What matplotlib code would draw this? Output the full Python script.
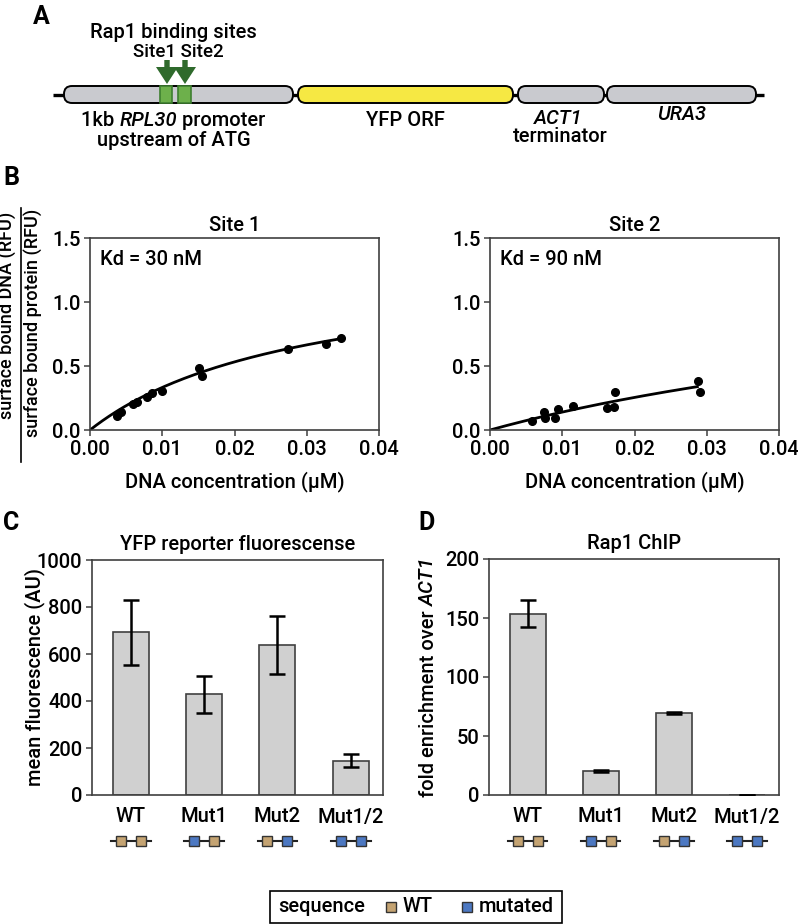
import numpy as np
import matplotlib
matplotlib.use("Agg")
import matplotlib.pyplot as plt
from matplotlib import font_manager
from matplotlib.patches import FancyBboxPatch, Rectangle, Polygon
from matplotlib.transforms import blended_transform_factory

# ---------------- data ----------------
site1_x = [0.00369, 0.00424, 0.0059, 0.00646, 0.00784, 0.00863, 0.0100, 0.0151, 0.01555, 0.0274, 0.0327, 0.0347]
site1_y = [0.109, 0.138, 0.203, 0.221, 0.260, 0.286, 0.307, 0.481, 0.424, 0.629, 0.673, 0.715]
site2_x = [0.00586, 0.00747, 0.00757, 0.0090, 0.00937, 0.01144, 0.01615, 0.01721, 0.0173, 0.02874, 0.02907]
site2_y = [0.070, 0.138, 0.096, 0.096, 0.164, 0.185, 0.169, 0.179, 0.299, 0.380, 0.299]
site1_kd, site1_bmax, site1_xmax = 0.030, 1.33, 0.0350   # fit (uM)
site2_kd, site2_bmax, site2_xmax = 0.090, 1.40, 0.0287

strains = ["WT", "Mut1", "Mut2", "Mut1/2"]
seq_states = [("wt", "wt"), ("mut", "wt"), ("wt", "mut"), ("mut", "mut")]
yfp_mean = [692, 428, 637, 146]
yfp_err = [137, 80, 123, 28]
chip_mean = [153.6, 20.6, 69.6, 0.2]
chip_err = [11.5, 0.8, 1.0, 0.1]

# ---------------- style ----------------
avail = {f.name for f in font_manager.fontManager.ttflist}
fam = [f for f in ["Roboto", "Noto Sans", "DejaVu Sans"] if f in avail] + ["DejaVu Sans"]
plt.rcParams["font.family"] = fam
plt.rcParams["font.weight"] = "medium"
FS = 14.5
FW = "medium"

W, H = 798, 924
fig = plt.figure(figsize=(W / 100, H / 100), dpi=100)
renderer = fig.canvas.get_renderer()

WT_C = "#C4A372"
MUT_C = "#4C78C2"
BAR_C = "#D0D0D0"
SPINE_C = "#404040"


def axpx(l, t, r, b):
    return fig.add_axes([l / W, 1 - b / H, (r - l) / W, (b - t) / H])


def style(ax):
    for s in ax.spines.values():
        s.set_color(SPINE_C)
        s.set_linewidth(1.2)
    ax.tick_params(labelsize=FS, length=4, width=1.1, color=SPINE_C, pad=3)
    for lab in ax.get_xticklabels() + ax.get_yticklabels():
        lab.set_fontweight(FW)


# ---------------- overlay (panel A, labels, legend) ----------------
ov = fig.add_axes([0, 0, 1, 1])
ov.set_xlim(0, W)
ov.set_ylim(H, 0)
ov.axis("off")
ov.patch.set_visible(False)


def rich(x, y, parts, fs=FS, rotation=0):
    """Draw a centred line made of (text, italic) parts, in overlay pixel coords."""
    texts = []
    for s, it in parts:
        t = ov.text(0, 0, s, fontsize=fs, fontweight=FW, style="italic" if it else "normal",
                    rotation=rotation, ha="left" if rotation == 0 else "center",
                    va="center" if rotation == 0 else "bottom")
        texts.append(t)
    lens = []
    for t in texts:
        bb = t.get_window_extent(renderer)
        lens.append(bb.width if rotation == 0 else bb.height)
    total = sum(lens)
    if rotation == 0:
        cur = x - total / 2
        for t, L in zip(texts, lens):
            t.set_position((cur, y))
            cur += L
    else:
        cur = y + total / 2
        for t, L in zip(texts, lens):
            t.set_position((x, cur))
            cur -= L


# construct line
ov.plot([53, 764], [95, 95], color="black", lw=2.4, solid_capstyle="butt", zorder=1)
boxes = [(64, 293, "#C9CACF"), (298, 513, "#F6E843"), (518, 604, "#C9CACF"), (607, 756, "#C9CACF")]
for x0, x1, c in boxes:
    ov.add_patch(FancyBboxPatch((x0, 86), x1 - x0, 17, boxstyle="round,pad=0,rounding_size=8",
                                fc=c, ec="black", lw=1.4, zorder=2))
for x0, x1 in [(160, 172), (178, 191)]:
    ov.add_patch(Rectangle((x0, 86), x1 - x0, 17, fc="#6DB04B", ec="#3E7F30", lw=1.2, zorder=3))
for xc in [167, 185]:
    pts = [(xc - 2.7, 60), (xc + 2.7, 60), (xc + 2.7, 67), (xc + 11, 67), (xc, 84),
           (xc - 11, 67), (xc - 2.7, 67)]
    ov.add_patch(Polygon(pts, closed=True, fc="#2F6A2C", ec="none", zorder=4))

ov.text(173, 32, "Rap1 binding sites", fontsize=FS, fontweight=FW, ha="center", va="center")
ov.text(178, 52, "Site1 Site2", fontsize=13.5, fontweight=FW, ha="center", va="center")
rich(173, 120, [("1kb ", False), ("RPL30", True), (" promoter", False)])
ov.text(174, 140, "upstream of ATG", fontsize=FS, fontweight=FW, ha="center", va="center")
ov.text(405, 120, "YFP ORF", fontsize=FS, fontweight=FW, ha="center", va="center")
ov.text(558, 118, "ACT1", fontsize=FS, fontweight=FW, ha="center", va="center", style="italic")
ov.text(560, 137, "terminator", fontsize=FS, fontweight=FW, ha="center", va="center")
ov.text(682, 115, "URA3", fontsize=FS, fontweight=FW, ha="center", va="center", style="italic")

# panel letters
for lab, x, y in [("A", 41, 17), ("B", 11, 178), ("C", 11, 523), ("D", 427, 523)]:
    ov.text(x, y, lab, fontsize=18, fontweight="bold", ha="center", va="center")

# B y-label as a fraction
YLF = 13
ov.plot([21, 21], [208, 462], color="black", lw=1.2)
ov.text(8, 212, "surface bound DNA (RFU)", fontsize=YLF, fontweight=FW, rotation=90, ha="center", va="top")
ov.text(34, 209, "surface bound protein (RFU)", fontsize=YLF, fontweight=FW, rotation=90, ha="center", va="top")

# legend
ov.add_patch(Rectangle((270, 891), 292, 32, fc="white", ec="black", lw=1.2))
ov.text(278, 907, "sequence", fontsize=FS, fontweight=FW, ha="left", va="center")
ov.add_patch(Rectangle((386, 902), 10, 10, fc=WT_C, ec="#333333", lw=1))
ov.text(403, 907, "WT", fontsize=FS, fontweight=FW, ha="left", va="center")
ov.add_patch(Rectangle((462, 902), 10, 10, fc=MUT_C, ec="#333333", lw=1))
ov.text(479, 907, "mutated", fontsize=FS, fontweight=FW, ha="left", va="center")

# ---------------- panel B ----------------
for (l, r), xs, ys, kd, bmax, xmax, title, kdtxt in [
    ((90, 379), site1_x, site1_y, site1_kd, site1_bmax, site1_xmax, "Site 1", "Kd = 30 nM"),
    ((490, 779), site2_x, site2_y, site2_kd, site2_bmax, site2_xmax, "Site 2", "Kd = 90 nM"),
]:
    ax = axpx(l, 238, r, 430)
    xf = np.linspace(0, xmax, 200)
    ax.plot(xf, bmax * xf / (kd + xf), color="black", lw=2, zorder=2)
    ax.plot(xs, ys, "o", color="black", ms=5.5, zorder=3)
    ax.set_xlim(0, 0.04)
    ax.set_ylim(0, 1.5)
    ax.set_xticks([0, 0.01, 0.02, 0.03, 0.04])
    ax.set_xticklabels(["0.00", "0.01", "0.02", "0.03", "0.04"])
    ax.set_yticks([0, 0.5, 1.0, 1.5])
    ax.set_yticklabels(["0.0", "0.5", "1.0", "1.5"])
    style(ax)
    ax.set_title(title, fontsize=FS, fontweight=FW, pad=5)
    ax.set_xlabel("DNA concentration (µM)", fontsize=FS, fontweight=FW, labelpad=9)
    ax.text(0.035, 0.89, kdtxt, transform=ax.transAxes, fontsize=FS, fontweight=FW,
            ha="left", va="center")


# ---------------- panels C & D ----------------
def bar_panel(l, t, r, b, means, errs, ylim, yticks, title):
    ax = axpx(l, t, r, b)
    x = np.arange(len(strains))
    ax.bar(x, means, width=0.49, color=BAR_C, edgecolor=SPINE_C, lw=1.2, zorder=2)
    ax.errorbar(x, means, yerr=errs, fmt="none", ecolor="black", elinewidth=1.8,
                capsize=6, capthick=1.8, zorder=3)
    ax.set_xlim(-0.53, 3.44)
    ax.set_ylim(*ylim)
    ax.set_yticks(yticks)
    ax.set_xticks(x)
    ax.set_xticklabels(strains)
    style(ax)
    ax.tick_params(axis="x", length=0, pad=9)
    ax.set_title(title, fontsize=FS, fontweight=FW, pad=7)
    # sequence icons
    tr = blended_transform_factory(ax.transData, fig.transFigure)
    yi = 1 - 841 / H
    for xi, st in zip(x, seq_states):
        ax.plot([xi - 0.27, xi + 0.27], [yi, yi], color="#222222", lw=1.5, transform=tr, clip_on=False)
        for dx, s in zip((-0.137, 0.137), st):
            ax.plot([xi + dx], [yi], marker="s", ms=7.2, mfc=WT_C if s == "wt" else MUT_C,
                    mec="#333333", mew=1, transform=tr, clip_on=False, linestyle="none")
    return ax


axC = bar_panel(92, 560, 383, 795, yfp_mean, yfp_err, (0, 1000), [0, 200, 400, 600, 800, 1000],
                "YFP reporter fluorescense")
ov.text(35, 677, "mean fluorescence (AU)", fontsize=FS, fontweight=FW, rotation=90, ha="center", va="center")
axD = bar_panel(489, 559, 779, 795, chip_mean, chip_err, (0, 200), [0, 50, 100, 150, 200],
                "Rap1 ChIP")
rich(428, 677, [("fold enrichment over ", False), ("ACT1", True)], rotation=90)

fig.savefig("out.png", dpi=100)
